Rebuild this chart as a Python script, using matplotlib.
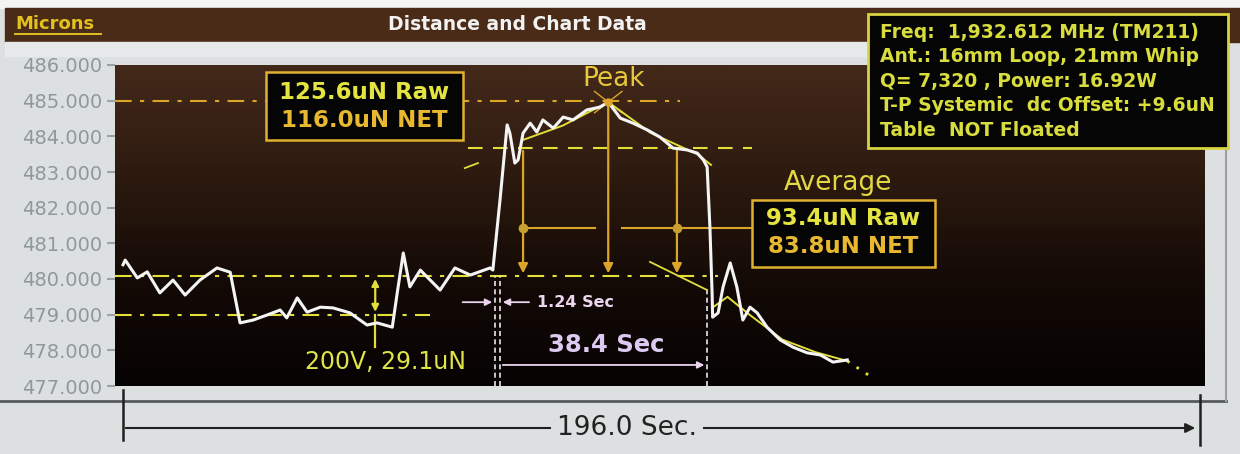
import numpy as np
import matplotlib.pyplot as plt
from matplotlib.colors import LinearSegmentedColormap
from matplotlib.patches import Rectangle

# trace (seconds, microns)
time_s = [0.0, 0.4, 2.6, 4.4, 6.7, 9.1, 11.3, 14.0, 17.1, 19.5,
          21.3, 23.7, 26.2, 28.6, 29.8, 31.7, 33.5, 35.9, 38.2, 41.3,
          44.4, 46.2, 49.0, 49.9, 51.0, 52.2, 54.1, 57.7, 60.4, 63.2,
          66.8, 67.3, 68.6, 69.9, 70.4, 71.3, 71.9, 72.8, 74.1, 75.3,
          76.4, 78.3, 80.1, 81.9, 84.4, 86.8, 88.3, 90.5, 92.8, 95.4,
          97.7, 100.1, 102.6, 104.5, 105.6, 106.3, 106.8, 107.2, 107.3, 108.3,
          109.2, 110.5, 111.7, 112.8, 114.1, 115.4, 117.2, 119.6, 121.9, 124.5,
          126.9, 129.2, 131.8]
microns = [480.40, 480.53, 480.03, 480.20, 479.61, 479.97, 479.55, 479.97, 480.31, 480.19,
           478.77, 478.85, 478.99, 479.13, 478.91, 479.47, 479.07, 479.21, 479.19, 479.05,
           478.71, 478.77, 478.65, 479.61, 480.73, 479.78, 480.25, 479.69, 480.31, 480.11,
           480.31, 480.25, 482.21, 484.32, 484.09, 483.25, 483.34, 484.09, 484.37, 484.12,
           484.46, 484.23, 484.54, 484.46, 484.74, 484.82, 484.96, 484.51, 484.37, 484.18,
           483.98, 483.67, 483.62, 483.53, 483.34, 483.14, 481.46, 479.61, 478.93, 479.05,
           479.78, 480.45, 479.78, 478.85, 479.21, 479.05, 478.65, 478.29, 478.09, 477.93,
           477.87, 477.67, 477.73]

# yellow fit traces
top_fit_t = [72.8, 80.0, 88.3, 96.0, 104.5, 107.0]
top_fit_v = [483.90, 484.30, 484.96, 484.10, 483.50, 483.20]
decay_fit_t = [107.3, 110.0, 114.0, 120.0, 126.0, 131.8]
decay_fit_v = [479.20, 479.50, 479.00, 478.30, 477.95, 477.70]
tail_t = [131.8, 136.7]
tail_v = [477.70, 477.20]

yticks = [477, 478, 479, 480, 481, 482, 483, 484, 485, 486]

peak_line = 485.0
plateau = 483.67
baseline = 480.08
low_level = 479.0
avg_level = 481.43
on_t, on_t2, off_t = 67.7, 68.6, 106.3
drop_arrows_t = [72.8, 88.3, 100.8]
step_t = 45.9

info_lines = ["Freq:  1,932.612 MHz (TM211)",
              "Ant.: 16mm Loop, 21mm Whip",
              "Q= 7,320 , Power: 16.92W",
              "T-P Systemic  dc Offset: +9.6uN",
              "Table  NOT Floated"]

W, H = 1240, 454
fig = plt.figure(figsize=(12.4, 4.54), dpi=100)
fig.patch.set_facecolor('#dde0e0')

# background / frame in pixel coords
bg = fig.add_axes([0, 0, 1, 1], zorder=0)
bg.set_xlim(0, W)
bg.set_ylim(H, 0)
bg.axis('off')
bg.add_patch(Rectangle((0, 0), W, 8, color='#f4f4f2'))
bg.add_patch(Rectangle((5, 8), W - 5, 34, color='#4a2b18'))
bg.add_patch(Rectangle((5, 42), 1221, 14, color='#e6eaea'))
bg.plot([0, 1226], [401, 401], color='#555a5a', lw=2)
bg.plot([1226, 1226], [42, 401], color='#9aa0a0', lw=1.5)
bg.text(15, 24, 'Microns', color='#e2c020', fontsize=13, fontweight='bold',
        va='center', ha='left')
bg.plot([15, 101], [34, 34], color='#e2c020', lw=1.4)
bg.text(517, 25, 'Distance and Chart Data', color='#f2f2f2', fontsize=13.5,
        fontweight='bold', va='center', ha='center')

# main plot
ax = fig.add_axes([115 / W, 1 - 386 / H, 1090 / W, 321 / H], zorder=1)
ax.set_xlim(-1.46, 196.9)
ax.set_ylim(477, 486)
grad = LinearSegmentedColormap.from_list('g', ['#060303', '#140a06', '#2e1b10', '#43291a'])
ax.imshow(np.linspace(0, 1, 256).reshape(-1, 1), cmap=grad, aspect='auto',
          extent=[0, 1, 0, 1], transform=ax.transAxes, origin='lower', zorder=0)
for s in ax.spines.values():
    s.set_visible(False)
ax.set_xticks([])
ax.set_yticks(yticks)
ax.set_yticklabels(['%.3f' % v for v in yticks], color='#8f9999', fontsize=14)
ax.tick_params(axis='y', length=6, width=1.5, color='#9aa2a2', pad=3)

yel = '#e2de3a'
org = '#dca52a'

# reference levels
ax.plot([-1.46, 101.4], [peak_line] * 2, color=org, lw=1.5, ls=(0, (8, 4, 2, 4)))
ax.plot([62.8, 114.5], [plateau] * 2, color=yel, lw=1.5, ls=(0, (7, 5)))
ax.plot([-1.46, 108.3], [baseline] * 2, color=yel, lw=1.5, ls=(0, (8, 4, 2, 4)))
ax.plot([-1.46, 55.9], [low_level] * 2, color=yel, lw=1.5, ls=(0, (8, 4, 2, 4)))

# dashed markers for on/off
for t in [on_t, on_t2]:
    ax.plot([t, t], [477, baseline], color='#e8e8f0', lw=1.2, ls=(0, (3, 2)))
ax.plot([off_t, off_t], [477, 479.7], color='#e8e8f0', lw=1.2, ls=(0, (3, 2)))

# fits and trace
ax.plot(top_fit_t, top_fit_v, color=yel, lw=1.4, zorder=3)
ax.plot(decay_fit_t, decay_fit_v, color=yel, lw=1.4, zorder=3)
ax.plot(tail_t, tail_v, color=yel, lw=2, ls=(0, (1, 3)), zorder=3)
ax.plot(time_s, microns, color='#f4f4f4', lw=2.2, zorder=4)
ax.plot([95.9, 106.3], [480.48, 479.69], color=yel, lw=1.3, zorder=3)
ax.plot([62.2, 64.6], [483.11, 483.25], color=yel, lw=1.3, zorder=3)

# step arrow
ax.annotate('', xy=(step_t, low_level), xytext=(step_t, baseline),
            arrowprops=dict(arrowstyle='<|-|>', color=yel, lw=1.6, mutation_scale=10))
ax.plot([step_t, step_t], [low_level, 478.09], color=yel, lw=1.6)
ax.text(47.7, 477.67, '200V, 29.1uN', color='#dfe544', fontsize=17,
        ha='center', va='center')

# drop arrows
for t, top in zip(drop_arrows_t, [plateau, max(microns), plateau]):
    ax.annotate('', xy=(t, baseline), xytext=(t, top),
                arrowprops=dict(arrowstyle='-|>', color=org, lw=1.6, mutation_scale=14))
ax.plot([drop_arrows_t[0], 85.9], [avg_level] * 2, color=org, lw=1.5)
ax.plot([90.8, 114.5], [avg_level] * 2, color=org, lw=1.5)
ax.plot([drop_arrows_t[0], drop_arrows_t[2]], [avg_level] * 2, 'o', color='#c8a030',
        ms=6, zorder=5)
pk = int(np.argmax(microns))
ax.plot([time_s[pk] - 2.5, time_s[pk] + 2.5], [microns[pk] + 0.3, microns[pk] - 0.3],
        color=org, lw=1)
ax.plot([time_s[pk] - 2.5, time_s[pk] + 2.5], [microns[pk] - 0.3, microns[pk] + 0.3],
        color=org, lw=1)
ax.plot(time_s[pk], microns[pk], 'o', color=org, ms=5, zorder=5)
ax.text(89.2, 485.62, 'Peak', color='#e6c83a', fontsize=19, ha='center', va='center')
ax.text(130.1, 482.69, 'Average', color='#e2d840', fontsize=19, ha='center', va='center')

# value boxes
ax.add_patch(Rectangle((26.0, 483.90), 35.8, 1.90, facecolor='#050505',
                       edgecolor='#e0b030', lw=1.8, zorder=6))
ax.text(43.9, 485.24, '125.6uN Raw', color='#e4e440', fontsize=16.5, fontweight='bold',
        ha='center', va='center', zorder=7)
ax.text(43.9, 484.43, '116.0uN NET', color='#e8b830', fontsize=16.5, fontweight='bold',
        ha='center', va='center', zorder=7)
ax.add_patch(Rectangle((114.5, 480.34), 33.3, 1.87, facecolor='#050505',
                       edgecolor='#e0b030', lw=1.8, zorder=6))
ax.text(131.1, 481.71, '93.4uN Raw', color='#e4e440', fontsize=16.5, fontweight='bold',
        ha='center', va='center', zorder=7)
ax.text(131.1, 480.90, '83.8uN NET', color='#e8b830', fontsize=16.5, fontweight='bold',
        ha='center', va='center', zorder=7)

# timing annotations
pink = '#ecd6ee'
ax.annotate('', xy=(on_t, 479.35), xytext=(61.3, 479.35),
            arrowprops=dict(arrowstyle='-|>', color=pink, lw=1.3, mutation_scale=10))
ax.annotate('', xy=(on_t2, 479.35), xytext=(74.4, 479.35),
            arrowprops=dict(arrowstyle='-|>', color=pink, lw=1.3, mutation_scale=10))
ax.text(75.3, 479.35, '1.24 Sec', color=pink, fontsize=11.5, fontweight='bold',
        ha='left', va='center')
ax.annotate('', xy=(off_t, 477.59), xytext=(on_t2, 477.59),
            arrowprops=dict(arrowstyle='-|>', color=pink, lw=1.3, mutation_scale=10))
ax.text(87.9, 478.15, '38.4 Sec', color='#dccaf2', fontsize=17.5, fontweight='bold',
        ha='center', va='center')

# foreground overlay: info box and total span
fg = fig.add_axes([0, 0, 1, 1], zorder=3)
fg.set_xlim(0, W)
fg.set_ylim(H, 0)
fg.axis('off')
fg.patch.set_alpha(0)
fg.add_patch(Rectangle((868, 14), 360, 134, facecolor='#050505',
                       edgecolor='#d8d440', lw=2))
for i, line in enumerate(info_lines):
    fg.text(880, 32 + i * 24.5, line, color='#d8dc3c', fontsize=13.5,
            fontweight='bold', va='center', ha='left')

fg.plot([123, 123], [390, 440], color='#202020', lw=1.8)
fg.plot([1200, 1200], [395, 445], color='#202020', lw=1.8)
fg.annotate('', xy=(1198, 428), xytext=(123, 428),
            arrowprops=dict(arrowstyle='-|>', color='#202020', lw=1.5, mutation_scale=14))
fg.text(627, 428, '196.0 Sec.', color='#222222', fontsize=19, ha='center', va='center',
        bbox=dict(facecolor='#dde0e0', edgecolor='none', pad=4))

fig.savefig('out.png', dpi=100, facecolor=fig.get_facecolor())
